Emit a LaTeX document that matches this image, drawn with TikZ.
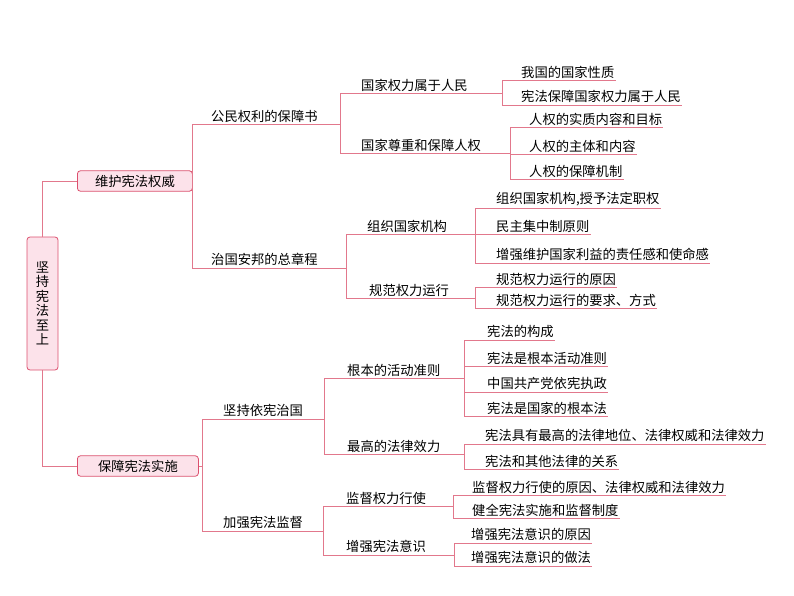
\documentclass[tikz,border=0pt]{standalone}
\usepackage{fontspec}
\setmainfont{Noto Sans CJK SC}
\usetikzlibrary{calc}
\definecolor{ln}{RGB}{226,120,140}
\definecolor{bxf}{RGB}{252,226,234}
\definecolor{bxd}{RGB}{220,80,110}
\tikzset{
 t/.style={anchor=west,inner xsep=1pt,inner ysep=2.5pt,font=\fontsize{13.3}{14}\selectfont},
 bx/.style={draw=bxd,fill=bxf,rounded corners=3pt,line width=0.8pt,inner xsep=5pt,inner ysep=4pt,font=\fontsize{13.3}{14}\selectfont},
 cn/.style={draw=ln,line width=0.8pt}
}
\newcommand{\ul}[1]{\draw[cn] (#1.south west) -- (#1.south east);}
\newcommand{\cc}[3]{\draw[cn] (#1) -- ([xshift=-#3]#2.south west |- #1) |- (#2.south west);}
\begin{document}
\begin{tikzpicture}[x=1pt,y=1pt]
\useasboundingbox (0,0) rectangle (794,-596);
\node[bx,minimum width=31pt,minimum height=133pt,text width=14pt,align=center,inner xsep=2pt,font=\fontsize{13.3}{14.5}\selectfont] (r) at (42.5,-303.5) {坚\\持\\宪\\法\\至\\上};
\node[bx,anchor=west,minimum width=115pt] (b1) at (77,-181) {维护宪法权威};
\node[bx,anchor=west,minimum width=121pt] (b2) at (77,-466) {保障宪法实施};
\draw[cn] (r.north) |- (b1.west);
\draw[cn] (r.south) |- (b2.west);
% level 2
\node[t] (a) at (210,-116) {公民权利的保障书};
\node[t] (b) at (210,-259) {治国安邦的总章程};
\node[t] (c) at (222,-410) {坚持依宪治国};
\node[t] (d) at (222,-522) {加强宪法监督};
% level 3
\node[t] (a1) at (360,-85) {国家权力属于人民};
\node[t] (a2) at (360,-145) {国家尊重和保障人权};
\node[t] (b1x) at (366,-226) {组织国家机构};
\node[t] (b2x) at (368,-290) {规范权力运行};
\node[t] (c1) at (346,-370) {根本的活动准则};
\node[t] (c2) at (346,-446) {最高的法律效力};
\node[t] (d1) at (345,-498) {监督权力行使};
\node[t] (d2) at (345,-546) {增强宪法意识};
% level 4
\node[t] (a11) at (520,-72) {我国的国家性质};
\node[t] (a12) at (520,-96) {宪法保障国家权力属于人民};
\node[t] (a21) at (528,-119) {人权的实质内容和目标};
\node[t] (a22) at (528,-146) {人权的主体和内容};
\node[t] (a23) at (528,-171) {人权的保障机制};
\node[t] (b11) at (495,-199) {组织国家机构,授予法定职权};
\node[t] (b12) at (495,-226) {民主集中制原则};
\node[t] (b13) at (495,-254) {增强维护国家利益的责任感和使命感};
\node[t] (b21) at (495,-279) {规范权力运行的原因};
\node[t] (b22) at (495,-300) {规范权力运行的要求、方式};
\node[t] (c11) at (486,-331) {宪法的构成};
\node[t] (c12) at (486,-358) {宪法是根本活动准则};
\node[t] (c13) at (486,-383) {中国共产党依宪执政};
\node[t] (c14) at (486,-408) {宪法是国家的根本法};
\node[t] (c21) at (484,-435) {宪法具有最高的法律地位、法律权威和法律效力};
\node[t] (c22) at (484,-461) {宪法和其他法律的关系};
\node[t] (d11) at (471,-487) {监督权力行使的原因、法律权威和法律效力};
\node[t] (d12) at (471,-510) {健全宪法实施和监督制度};
\node[t] (d21) at (470,-534) {增强宪法意识的原因};
\node[t] (d22) at (470,-557) {增强宪法意识的做法};
\foreach \n in {a,b,c,d,a1,a2,b1x,b2x,c1,c2,d1,d2,a11,a12,a21,a22,a23,b11,b12,b13,b21,b22,c11,c12,c13,c14,c21,c22,d11,d12,d21,d22}{\ul{\n}}
\cc{b1.east}{a}{18pt}\cc{b1.east}{b}{18pt}
\cc{b2.east}{c}{20pt}\cc{b2.east}{d}{20pt}
\cc{a.south east}{a1}{20pt}\cc{a.south east}{a2}{20pt}
\cc{b.south east}{b1x}{20pt}\cc{b.south east}{b2x}{22pt}
\cc{c.south east}{c1}{22pt}\cc{c.south east}{c2}{22pt}
\cc{d.south east}{d1}{22pt}\cc{d.south east}{d2}{22pt}
\cc{a1.south east}{a11}{18pt}\cc{a1.south east}{a12}{18pt}
\cc{a2.south east}{a21}{18pt}\cc{a2.south east}{a22}{18pt}\cc{a2.south east}{a23}{18pt}
\cc{b1x.south east}{b11}{20pt}\cc{b1x.south east}{b12}{20pt}\cc{b1x.south east}{b13}{20pt}
\cc{b2x.south east}{b21}{20pt}\cc{b2x.south east}{b22}{20pt}
\cc{c1.south east}{c11}{22pt}\cc{c1.south east}{c12}{22pt}\cc{c1.south east}{c13}{22pt}\cc{c1.south east}{c14}{22pt}
\cc{c2.south east}{c21}{20pt}\cc{c2.south east}{c22}{20pt}
\cc{d1.south east}{d11}{18pt}\cc{d1.south east}{d12}{18pt}
\cc{d2.south east}{d21}{16pt}\cc{d2.south east}{d22}{16pt}
\end{tikzpicture}
\end{document}
